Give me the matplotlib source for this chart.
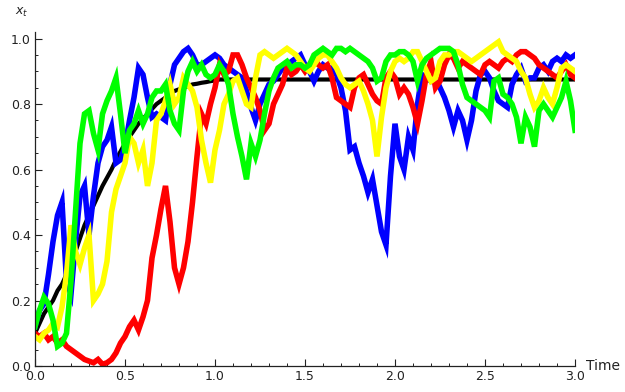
#!/usr/bin/env python3
"""Sample paths x_t of a noisy logistic process against the deterministic curve."""

import matplotlib

matplotlib.use("Agg")
import matplotlib.pyplot as plt
import numpy as np
from matplotlib.ticker import FormatStrFormatter, MultipleLocator

# time grid, one reading every 0.025
TIMES = np.linspace(0.0, 3.0, 121)

# values, ten per row (0.25 time units per row)
MEAN_CURVE = [
    0.10, 0.13, 0.16, 0.18, 0.20, 0.23, 0.25, 0.28, 0.31, 0.35,
    0.39, 0.43, 0.46, 0.49, 0.52, 0.55, 0.575, 0.60, 0.63, 0.655,
    0.68, 0.70, 0.72, 0.74, 0.755, 0.77, 0.785, 0.80, 0.81, 0.82,
    0.83, 0.84, 0.845, 0.85, 0.855, 0.86, 0.862, 0.865, 0.867, 0.87,
    0.872,
] + [0.875] * 80

BLUE = [
    0.12, 0.17, 0.19, 0.28, 0.38, 0.46, 0.50, 0.26, 0.22, 0.38,
    0.52, 0.55, 0.40, 0.52, 0.62, 0.67, 0.69, 0.73, 0.62, 0.63,
    0.67, 0.75, 0.82, 0.91, 0.89, 0.82, 0.76, 0.77, 0.76, 0.75,
    0.86, 0.92, 0.94, 0.96, 0.97, 0.95, 0.92, 0.92, 0.93, 0.94,
    0.95, 0.94, 0.92, 0.91, 0.90, 0.89, 0.88, 0.84, 0.79, 0.75,
    0.80, 0.83, 0.86, 0.87, 0.89, 0.91, 0.92, 0.93, 0.94, 0.95,
    0.92, 0.90, 0.87, 0.90, 0.92, 0.91, 0.91, 0.89, 0.85, 0.78,
    0.66, 0.67, 0.62, 0.58, 0.53, 0.57, 0.49, 0.41, 0.37, 0.58,
    0.74, 0.64, 0.60, 0.70, 0.66, 0.80, 0.89, 0.88, 0.87, 0.88,
    0.85, 0.82, 0.78, 0.73, 0.78, 0.75, 0.69, 0.75, 0.84, 0.89,
    0.90, 0.88, 0.84, 0.81, 0.80, 0.79, 0.86, 0.89, 0.91, 0.87,
    0.88, 0.88, 0.91, 0.92, 0.90, 0.93, 0.94, 0.93, 0.95, 0.94,
    0.95,
]

RED = [
    0.10, 0.09, 0.10, 0.08, 0.09, 0.07, 0.08, 0.06, 0.05, 0.04,
    0.03, 0.02, 0.015, 0.01, 0.02, 0.005, 0.01, 0.02, 0.04, 0.07,
    0.09, 0.12, 0.14, 0.11, 0.15, 0.20, 0.33, 0.40, 0.48, 0.55,
    0.44, 0.30, 0.25, 0.30, 0.38, 0.50, 0.64, 0.77, 0.74, 0.80,
    0.85, 0.92, 0.89, 0.90, 0.95, 0.95, 0.92, 0.88, 0.85, 0.82,
    0.78, 0.72, 0.74, 0.80, 0.83, 0.86, 0.91, 0.89, 0.90, 0.92,
    0.90, 0.92, 0.94, 0.92, 0.91, 0.92, 0.88, 0.82, 0.81, 0.80,
    0.79, 0.85, 0.88, 0.89, 0.86, 0.83, 0.81, 0.80, 0.88, 0.90,
    0.88, 0.83, 0.85, 0.83, 0.79, 0.74, 0.81, 0.89, 0.93, 0.85,
    0.87, 0.92, 0.95, 0.94, 0.91, 0.93, 0.92, 0.91, 0.90, 0.89,
    0.92, 0.93, 0.92, 0.91, 0.93, 0.94, 0.93, 0.95, 0.96, 0.96,
    0.95, 0.94, 0.92, 0.91, 0.90, 0.89, 0.88, 0.90, 0.92, 0.89,
    0.88,
]

GREEN = [
    0.12, 0.17, 0.21, 0.19, 0.14, 0.06, 0.07, 0.10, 0.26, 0.47,
    0.68, 0.77, 0.78, 0.71, 0.66, 0.77, 0.81, 0.84, 0.88, 0.77,
    0.65, 0.72, 0.74, 0.78, 0.74, 0.77, 0.82, 0.84, 0.84, 0.86,
    0.78, 0.74, 0.72, 0.84, 0.90, 0.93, 0.90, 0.92, 0.89, 0.88,
    0.89, 0.92, 0.90, 0.86, 0.77, 0.70, 0.64, 0.57, 0.68, 0.64,
    0.69, 0.77, 0.84, 0.88, 0.91, 0.92, 0.93, 0.91, 0.92, 0.92,
    0.91, 0.92, 0.95, 0.96, 0.97, 0.96, 0.95, 0.97, 0.97, 0.96,
    0.97, 0.96, 0.95, 0.94, 0.93, 0.91, 0.87, 0.88, 0.93, 0.95,
    0.95, 0.96, 0.96, 0.95, 0.93, 0.87, 0.92, 0.94, 0.95, 0.96,
    0.97, 0.97, 0.97, 0.96, 0.92, 0.86, 0.82, 0.81, 0.80, 0.79,
    0.78, 0.76, 0.87, 0.88, 0.83, 0.82, 0.80, 0.76, 0.68, 0.76,
    0.73, 0.67, 0.78, 0.80, 0.78, 0.76, 0.79, 0.82, 0.87, 0.81,
    0.72,
]

YELLOW = [
    0.09, 0.08, 0.10, 0.11, 0.13, 0.12, 0.18, 0.28, 0.43, 0.35,
    0.31, 0.36, 0.40, 0.20, 0.22, 0.25, 0.32, 0.47, 0.54, 0.58,
    0.62, 0.70, 0.68, 0.62, 0.66, 0.55, 0.62, 0.75, 0.77, 0.81,
    0.86, 0.80, 0.82, 0.88, 0.86, 0.84, 0.79, 0.69, 0.62, 0.56,
    0.66, 0.72, 0.80, 0.83, 0.87, 0.88, 0.84, 0.80, 0.79, 0.88,
    0.95, 0.96, 0.95, 0.94, 0.95, 0.96, 0.97, 0.96, 0.95, 0.93,
    0.91, 0.90, 0.92, 0.94, 0.95, 0.95, 0.93, 0.91, 0.88, 0.86,
    0.85, 0.86, 0.87, 0.84, 0.80, 0.75, 0.64, 0.76, 0.85, 0.90,
    0.93, 0.94, 0.93, 0.94, 0.96, 0.96, 0.93, 0.90, 0.87, 0.88,
    0.93, 0.95, 0.95, 0.96, 0.96, 0.95, 0.94, 0.93, 0.94, 0.95,
    0.96, 0.97, 0.98, 0.99, 0.96, 0.95, 0.94, 0.93, 0.90, 0.88,
    0.83, 0.79, 0.81, 0.85, 0.82, 0.80, 0.85, 0.91, 0.92, 0.91,
    0.90,
]


def main() -> None:
    fig = plt.figure(figsize=(6.25, 3.92), dpi=100)
    ax = fig.add_axes([0.056, 0.0663, 0.864, 0.852])

    ax.plot(TIMES, MEAN_CURVE, color="black", linewidth=3.0, zorder=1)
    paths = [(BLUE, "#0000ff"), (RED, "#ff0000"), (YELLOW, "#ffff00"), (GREEN, "#00ff00")]
    for values, color in paths:
        ax.plot(TIMES, values, color=color, linewidth=4.0, zorder=2,
                solid_joinstyle="miter")

    ax.set_xlim(0.0, 3.0)
    ax.set_ylim(0.0, 1.02)
    ax.spines["top"].set_visible(False)
    ax.spines["right"].set_visible(False)
    for side in ("left", "bottom"):
        ax.spines[side].set_color("#222222")
        ax.spines[side].set_linewidth(0.9)

    ax.xaxis.set_major_locator(MultipleLocator(0.5))
    ax.xaxis.set_minor_locator(MultipleLocator(0.1))
    ax.yaxis.set_major_locator(MultipleLocator(0.2))
    ax.yaxis.set_minor_locator(MultipleLocator(0.05))
    ax.xaxis.set_major_formatter(FormatStrFormatter("%.1f"))
    ax.yaxis.set_major_formatter(FormatStrFormatter("%.1f"))
    ax.tick_params(which="major", direction="in", length=5, width=0.8,
                   labelsize=9, colors="#222222", pad=3)
    ax.tick_params(which="minor", direction="in", length=2.5, width=0.7, colors="#222222")

    fig.text(22 / 625, 1 - 12 / 392, r"$x_t$", fontsize=9, ha="center", va="center",
             color="#222222")
    fig.text(586 / 625, 26 / 392, "Time", fontsize=10, ha="left", va="center",
             color="#222222")

    fig.savefig("out.png", dpi=100)


if __name__ == "__main__":
    main()
